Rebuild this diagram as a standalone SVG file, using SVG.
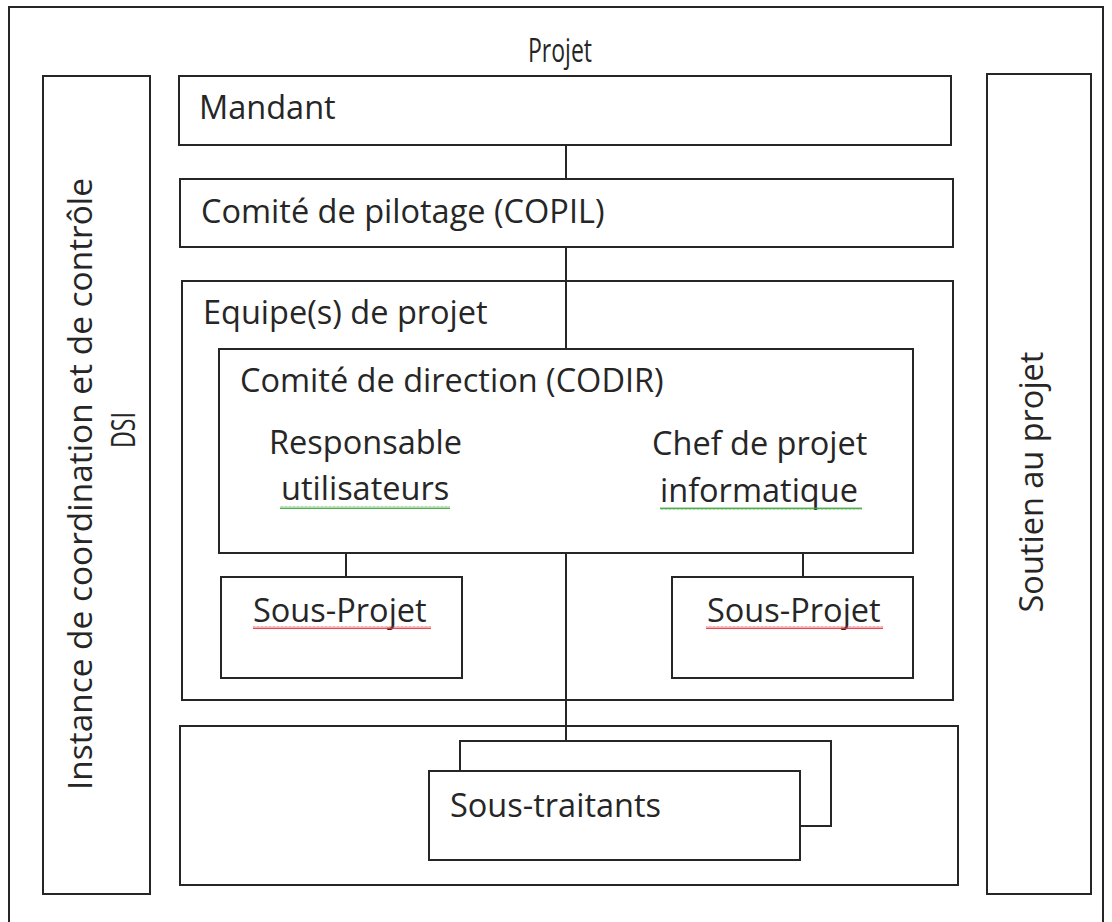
<svg xmlns="http://www.w3.org/2000/svg" width="1112" height="922" viewBox="0 0 1112 922">
  <style>
    .box { fill: none; stroke: #262626; stroke-width: 2; }
    .boxw { fill: #ffffff; stroke: #262626; stroke-width: 2; }
    .conn { stroke: #262626; stroke-width: 2; fill: none; }
    .t { font-family: "Open Sans", "Liberation Sans", sans-serif; font-size: 32.5px; fill: #262626; }
  </style>
  <defs>
    <pattern id="wavyRed" x="0" y="0" width="4" height="3" patternUnits="userSpaceOnUse">
      <path d="M0,2.5 L1,0.5 L2,2.5 L3,0.5 L4,2.5" fill="none" stroke="#e8323c" stroke-width="0.9"/>
    </pattern>
    <pattern id="wavyGreen" x="0" y="0" width="4" height="3" patternUnits="userSpaceOnUse">
      <path d="M0,2.5 L1,0.5 L2,2.5 L3,0.5 L4,2.5" fill="none" stroke="#3aa63a" stroke-width="0.9"/>
    </pattern>
  </defs>
  <rect width="1112" height="922" fill="#ffffff"/>

  <g id="frame">
    <rect class="box" x="9" y="7" width="1094" height="940"/>
    <text class="t" x="528" y="62" font-size="28" textLength="64" lengthAdjust="spacingAndGlyphs">Projet</text>
  </g>

  <g id="connectors">
    <line class="conn" x1="566" y1="145" x2="566" y2="179"/>
    <line class="conn" x1="566" y1="247" x2="566" y2="349"/>
    <line class="conn" x1="566" y1="553" x2="566" y2="741"/>
    <line class="conn" x1="346" y1="553" x2="346" y2="577"/>
    <line class="conn" x1="803" y1="553" x2="803" y2="577"/>
  </g>

  <g id="dsi">
    <rect class="box" x="43" y="76" width="107" height="818"/>
    <text class="t" transform="translate(92,484) rotate(-90)" x="0" y="0" text-anchor="middle" font-size="31" textLength="612" lengthAdjust="spacingAndGlyphs">Instance de coordination et de contrôle</text>
    <text class="t" transform="translate(135,430) rotate(-90)" x="0" y="0" text-anchor="middle" font-size="31" textLength="36" lengthAdjust="spacingAndGlyphs">DSI</text>
  </g>

  <g id="soutien">
    <rect class="box" x="987" y="74" width="104" height="820"/>
    <text class="t" transform="translate(1043,482) rotate(-90)" x="0" y="0" text-anchor="middle">Soutien au projet</text>
  </g>

  <g id="mandant">
    <rect class="box" x="179" y="76" width="772" height="69"/>
    <text class="t" x="199" y="119">Mandant</text>
  </g>

  <g id="copil">
    <rect class="box" x="180" y="179" width="773" height="68"/>
    <text class="t" x="201" y="223">Comité de pilotage (COPIL)</text>
  </g>

  <g id="equipe">
    <rect class="box" x="182" y="281" width="771" height="419"/>
    <text class="t" x="203" y="324">Equipe(s) de projet</text>
  </g>

  <g id="codir">
    <rect class="box" x="219" y="349" width="694" height="204"/>
    <text class="t" x="240" y="392">Comité de direction (CODIR)</text>
    <text class="t" x="269" y="454">Responsable</text>
    <text class="t" x="281" y="500">utilisateurs</text>
    <rect x="280" y="506" width="170" height="3" fill="url(#wavyGreen)"/>
    <text class="t" x="652" y="455">Chef de projet</text>
    <text class="t" x="660" y="502">informatique</text>
    <rect x="660" y="507" width="202" height="3" fill="url(#wavyGreen)"/>
  </g>

  <g id="sousprojet1">
    <rect class="box" x="221" y="577" width="241" height="101"/>
    <text class="t" x="253" y="622">Sous-Projet</text>
    <rect x="253" y="626" width="178" height="3" fill="url(#wavyRed)"/>
  </g>

  <g id="sousprojet2">
    <rect class="box" x="672" y="577" width="241" height="101"/>
    <text class="t" x="707" y="622">Sous-Projet</text>
    <rect x="706" y="626" width="177" height="3" fill="url(#wavyRed)"/>
  </g>

  <g id="soustraitants">
    <rect class="box" x="180" y="726" width="778" height="159"/>
    <rect class="boxw" x="460" y="741" width="371" height="85"/>
    <rect class="boxw" x="429" y="771" width="371" height="89"/>
    <text class="t" x="450" y="817">Sous-traitants</text>
  </g>
</svg>
